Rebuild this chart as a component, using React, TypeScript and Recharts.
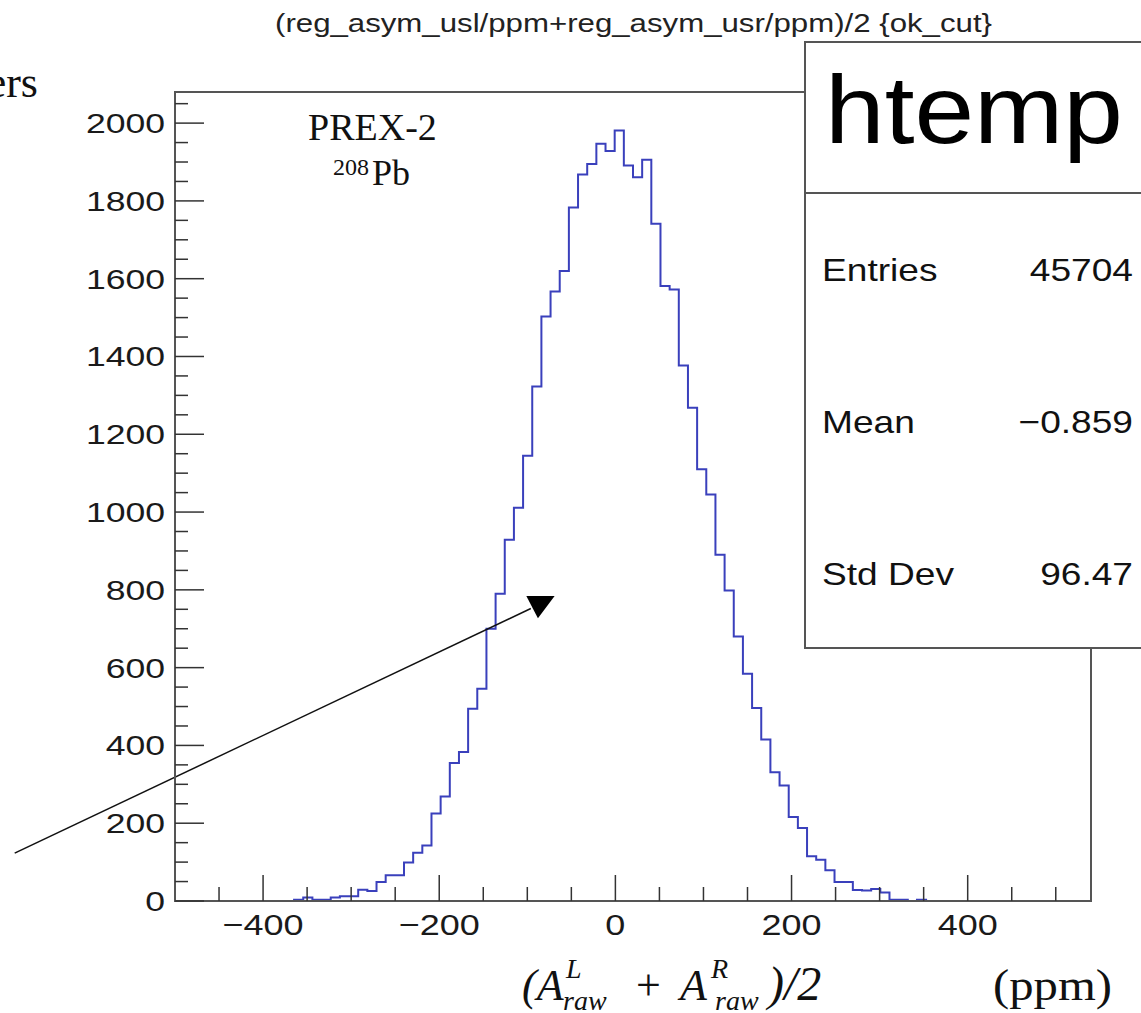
import { LineChart, Line, XAxis, YAxis, ReferenceArea, ReferenceLine, ReferenceDot } from 'recharts';

// htemp as ROOT booked it: 100 bins on [-500, 540]
const HIST_MIN = -500;
const HIST_MAX = 540;
const N_BINS = 100;
const BIN_WIDTH = (HIST_MAX - HIST_MIN) / N_BINS;
const FIRST_FILLED_BIN = 13;
const Y_MAX = 2080;

// bin contents, from bin FIRST_FILLED_BIN onwards
const binCounts = [
  3, 9, 3, 3, 9, 12, 12, 29, 26, 49,
  66, 66, 99, 124, 143, 225, 269, 355, 383, 494,
  546, 700, 790, 929, 1011, 1145, 1323, 1503, 1567, 1620,
  1783, 1868, 1895, 1947, 1928, 1981, 1891, 1861, 1906, 1741,
  1581, 1572, 1377, 1268, 1110, 1045, 890, 798, 680, 584,
  496, 415, 331, 297, 216, 188, 115, 106, 79, 49,
  49, 28, 27, 31, 22, 3, 3, 0, 3,
];

const X_TICKS = [-450, -400, -350, -300, -250, -200, -150, -100, -50, 0, 50, 100, 150, 200, 250, 300, 350, 400, 450, 500];
const X_LABELS = [-400, -200, 0, 200, 400];
const Y_TICKS = [
  0, 50, 100, 150, 200, 250, 300, 350, 400, 450, 500, 550, 600, 650, 700, 750, 800, 850, 900, 950,
  1000, 1050, 1100, 1150, 1200, 1250, 1300, 1350, 1400, 1450, 1500, 1550, 1600, 1650, 1700, 1750,
  1800, 1850, 1900, 1950, 2000, 2050,
];
const Y_LABELS = [0, 200, 400, 600, 800, 1000, 1200, 1400, 1600, 1800, 2000];

const statNames = ['Entries', 'Mean', 'Std Dev'];
const statValues = ['45704', '\u22120.859', '96.47'];

// arrow annotation, in data coordinates
const ARROW_FROM = { x: -682, y: 123 };
const ARROW_TO = { x: -96, y: 752 };
const ARROW_HEAD = { x: -86, y: 765 };

const SANS = '"Liberation Sans", Arial, Helvetica, sans-serif';
const SERIF = '"Liberation Serif", "Times New Roman", serif';

const edge = (i: number) => HIST_MIN + (FIRST_FILLED_BIN + i) * BIN_WIDTH;

const histData = [
  { x: edge(0), n: 0 },
  ...binCounts.map((n, i) => ({ x: edge(i), n })),
  { x: edge(binCounts.length), n: binCounts[binCounts.length - 1] },
  { x: edge(binCounts.length), n: 0 },
];

const fmt = (v: number) => (v < 0 ? '\u2212' + Math.abs(v) : String(v));

function XTick({ x, y, payload }: any) {
  const v = payload.value as number;
  const major = X_LABELS.includes(v);
  return (
    <g>
      <line x1={x} x2={x} y1={y} y2={y - (major ? 26 : 14)} stroke="#333" strokeWidth={1.5} />
      {major && (
        <text
          transform={`translate(${x},${y + 34}) scale(1.2,1)`}
          textAnchor="middle"
          fontFamily={SANS}
          fontSize={30}
          fill="#1a1a1a"
        >
          {fmt(v)}
        </text>
      )}
    </g>
  );
}

function YTick({ x, y, payload }: any) {
  const v = payload.value as number;
  const major = Y_LABELS.includes(v);
  return (
    <g>
      <line x1={x} x2={x + (major ? 29 : 13)} y1={y} y2={y} stroke="#333" strokeWidth={1.5} />
      {major && (
        <text
          transform={`translate(${x - 10},${y + 10}) scale(1.27,1)`}
          textAnchor="end"
          fontFamily={SANS}
          fontSize={28}
          fill="#1a1a1a"
        >
          {fmt(v)}
        </text>
      )}
    </g>
  );
}

function ArrowHead({ cx, cy }: any) {
  const pts = [
    [cx - 13.3, cy - 7.4],
    [cx + 15, cy - 7.4],
    [cx - 1.7, cy + 14.9],
  ]
    .map((p) => p.join(','))
    .join(' ');
  return <polygon points={pts} fill="#000" />;
}

export default function App() {
  return (
    <div style={{ position: 'absolute', left: 0, top: 0, width: 1141, height: 1013, background: '#fff', overflow: 'hidden' }}>
      <LineChart width={1141} height={1013} data={histData} margin={{ top: 92, right: 50, bottom: 72, left: 95 }}>
        <XAxis
          dataKey="x"
          type="number"
          domain={[HIST_MIN, HIST_MAX]}
          ticks={X_TICKS}
          interval={0}
          tick={XTick}
          tickLine={false}
          tickSize={0}
          tickMargin={0}
          height={40}
          axisLine={{ stroke: '#555', strokeWidth: 2 }}
          allowDataOverflow
        />
        <YAxis
          type="number"
          domain={[0, Y_MAX]}
          ticks={Y_TICKS}
          interval={0}
          tick={YTick}
          tickLine={false}
          tickSize={0}
          tickMargin={0}
          width={80}
          axisLine={{ stroke: '#555', strokeWidth: 2 }}
          allowDataOverflow
        />
        <ReferenceArea x1={HIST_MIN} x2={HIST_MAX} y1={0} y2={Y_MAX} fill="none" stroke="#555" strokeWidth={2} ifOverflow="visible" />
        <Line dataKey="n" type="stepAfter" stroke="#3a40bc" strokeWidth={2} dot={false} isAnimationActive={false} />
        <ReferenceLine segment={[ARROW_FROM, ARROW_TO]} stroke="#111" strokeWidth={1.5} ifOverflow="visible" />
        <ReferenceDot x={ARROW_HEAD.x} y={ARROW_HEAD.y} ifOverflow="visible" shape={ArrowHead} />
      </LineChart>

      <svg width={1141} height={1013} style={{ position: 'absolute', left: 0, top: 0, pointerEvents: 'none' }}>
        <text x={275} y={32} fontFamily={SANS} fontSize={26} fill="#222" textLength={717} lengthAdjust="spacingAndGlyphs">
          {'(reg_asym_usl/ppm+reg_asym_usr/ppm)/2 {ok_cut}'}
        </text>

        <text x={38} y={97} textAnchor="end" fontFamily={SERIF} fontSize={44} fill="#111">ers</text>

        <text x={308} y={140} fontFamily={SERIF} fontSize={38} fill="#111">PREX-2</text>
        <text x={333} y={175} fontFamily={SERIF} fontSize={24} fill="#111">208</text>
        <text x={372} y={185} fontFamily={SERIF} fontSize={36} fill="#111">Pb</text>

        {/* stats box */}
        <rect x={805} y={42} width={400} height={606} fill="#fff" stroke="#555" strokeWidth={2} />
        <line x1={805} x2={1141} y1={193} y2={193} stroke="#555" strokeWidth={2} />
        <text x={825} y={143} fontFamily={SANS} fontSize={97} fill="#000" textLength={298} lengthAdjust="spacingAndGlyphs">htemp</text>
        <g transform="translate(822,0) scale(1.16,1)" fontFamily={SANS} fontSize={32} fill="#111">
          {statNames.map((name, i) => (
            <g key={name}>
              <text x={0} y={281 + i * 152}>{name}</text>
              <text x={(1133 - 822) / 1.16} y={281 + i * 152} textAnchor="end">{statValues[i]}</text>
            </g>
          ))}
        </g>

        {/* x-axis title */}
        <g fontFamily={SERIF} fill="#111" fontStyle="italic">
          <text x={522} y={1000} fontSize={44}>(A</text>
          <text x={566} y={978} fontSize={28}>L</text>
          <text x={563} y={1010} fontSize={28}>raw</text>
          <text x={636} y={1000} fontSize={44} fontStyle="normal">+</text>
          <text x={680} y={1000} fontSize={44}>A</text>
          <text x={711} y={978} fontSize={28}>R</text>
          <text x={715} y={1010} fontSize={28}>raw</text>
          <text x={768} y={1000} fontSize={48}>)/2</text>
        </g>
        <text x={993} y={1000} fontFamily={SERIF} fontSize={44} fill="#111" textLength={119} lengthAdjust="spacingAndGlyphs">(ppm)</text>
      </svg>
    </div>
  );
}
